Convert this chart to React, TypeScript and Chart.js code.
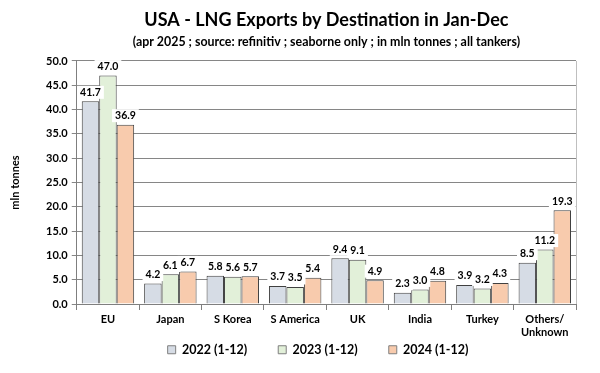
import React, { useEffect, useRef } from "react";
import { Chart, registerables } from "chart.js";

Chart.register(...registerables);

const categories: (string | string[])[] = ["EU", "Japan", "S Korea", "S America", "UK", "India", "Turkey", ["Others/", "Unknown"]];
const series2022 = [41.7, 4.2, 5.8, 3.7, 9.4, 2.3, 3.9, 8.5];
const series2023 = [47.0, 6.1, 5.6, 3.5, 9.1, 3.0, 3.2, 11.2];
const series2024 = [36.9, 6.7, 5.7, 5.4, 4.9, 4.8, 4.3, 19.3];
const seriesLabels = ["2022 (1-12)", "2023 (1-12)", "2024 (1-12)"];
const seriesColors = ["#d6dce5", "#e2f0d9", "#f8cbad"];
const FONT = "Lato, 'Open Sans', sans-serif";

const valueLabels = {
  id: "valueLabels",
  afterLayout(chart: any) {
    const lg = chart.legend;
    if (lg) {
      const dx = 318 - (lg.left + lg.right) / 2;
      lg.left += dx;
      lg.right += dx;
    }
  },
  afterDatasetsDraw(chart: any) {
    const ctx = chart.ctx;
    ctx.save();
    ctx.font = `bold 10.5px ${FONT}`;
    ctx.textAlign = "center";
    ctx.textBaseline = "middle";
    chart.data.datasets.forEach((ds: any, di: number) => {
      const meta = chart.getDatasetMeta(di);
      meta.data.forEach((bar: any, i: number) => {
        const txt = Number(ds.data[i]).toFixed(1);
        const w = ctx.measureText(txt).width + 6;
        const cy = bar.y - 9;
        ctx.fillStyle = "#ffffff";
        ctx.fillRect(bar.x - w / 2, cy - 6.5, w, 13);
        ctx.fillStyle = "#000000";
        ctx.fillText(txt, bar.x, cy);
      });
    });
    const a = chart.chartArea;
    ctx.strokeStyle = "#bfbfbf";
    ctx.lineWidth = 1;
    ctx.beginPath();
    ctx.moveTo(Math.round(a.right) + 0.5, a.top);
    ctx.lineTo(Math.round(a.right) + 0.5, a.bottom);
    ctx.stroke();
    ctx.restore();
  },
};

export default function App() {
  const ref = useRef<HTMLCanvasElement>(null);
  useEffect(() => {
    document.body.style.margin = "0";
    const chart = new Chart(ref.current!, {
      type: "bar",
      data: {
        labels: categories,
        datasets: [series2022, series2023, series2024].map((d, i) => ({
          label: seriesLabels[i],
          data: d,
          backgroundColor: seriesColors[i],
          borderColor: "#404040",
          borderWidth: 1,
          categoryPercentage: 0.84,
          barPercentage: 1.0,
        })),
      },
      options: {
        animation: false,
        responsive: false,
        maintainAspectRatio: false,
        layout: { padding: { left: 4, right: 24, top: 0, bottom: 7 } },
        plugins: {
          title: {
            display: true,
            fullSize: false,
            text: "USA - LNG Exports by Destination in Jan-Dec",
            color: "#000",
            font: { family: FONT, size: 18, weight: "bold" },
            padding: { top: 9, bottom: 0 },
          },
          subtitle: {
            display: true,
            fullSize: false,
            text: "(apr 2025 ; source: refinitiv ; seaborne only ; in mln tonnes ; all tankers)",
            color: "#000",
            font: { family: FONT, size: 12.4, weight: "bold" },
            padding: { top: 4, bottom: 11.5 },
          },
          legend: {
            position: "bottom",
            fullSize: false,
            labels: {
              color: "#000",
              font: { family: FONT, size: 12.5, weight: "bold" },
              boxWidth: 8,
              boxHeight: 8,
              padding: 31,
              generateLabels: (c: any) =>
                Chart.defaults.plugins.legend.labels.generateLabels(c).map((it: any) => ({
                  ...it,
                  strokeStyle: "#7f7f7f",
                  lineWidth: 1,
                })),
            },
          },
          tooltip: { enabled: false },
        },
        scales: {
          x: {
            afterFit: (s: any) => {
              s.height = 8.5;
              s._computeLabelArea = () => null;
            },
            grid: { display: true, drawOnChartArea: false, offset: true, tickLength: 6, color: "#7f7f7f" },
            border: { display: true, color: "#7f7f7f" },
            ticks: { color: "#000", font: { family: FONT, size: 11, weight: "bold" }, maxRotation: 0, autoSkip: false, padding: 3 },
          },
          y: {
            min: 0,
            max: 50,
            ticks: {
              stepSize: 5,
              color: "#000",
              font: { family: FONT, size: 11, weight: "bold" },
              callback: (v: any) => Number(v).toFixed(1),
              padding: 4,
            },
            grid: { color: "#868686", tickLength: 5 },
            border: { display: true, color: "#7f7f7f" },
            title: {
              display: true,
              text: "mln tonnes",
              color: "#000",
              font: { family: FONT, size: 11, weight: "bold" },
              padding: { top: 4.4, bottom: 20.4 },
            },
          },
        },
      },
      plugins: [valueLabels],
    });
    return () => chart.destroy();
  }, []);
  return (
    <div style={{ width: 600, height: 373, background: "#fff" }}>
      <canvas ref={ref} width={600} height={373} />
    </div>
  );
}
